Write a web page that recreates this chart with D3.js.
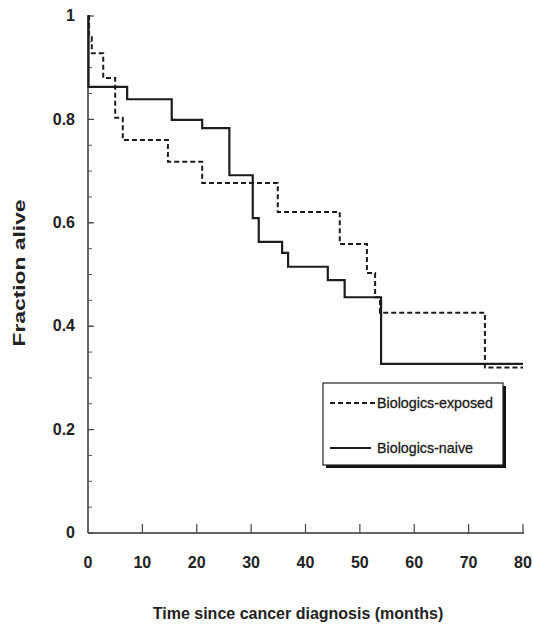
<!DOCTYPE html>
<html>
<head>
<meta charset="utf-8">
<script src="https://cdn.jsdelivr.net/npm/d3@7"></script>
<style>
  body { margin: 0; background: #fff; }
  svg { display: block; font-family: "Liberation Sans", Arial, sans-serif; }
</style>
</head>
<body>
<script>
// survival steps (time in months, fraction alive after the drop)
const exposedTimes = [0, 0.2, 0.7, 2.8, 5.0, 6.4, 14.7, 21.0, 34.9, 46.3, 51.3, 52.8, 53.7, 73.0, 80];
const exposedSurv  = [1, 0.963, 0.928, 0.880, 0.803, 0.760, 0.718, 0.677, 0.621, 0.559, 0.503, 0.456, 0.426, 0.320, 0.320];

const naiveTimes = [0, 0.1, 7.2, 15.4, 21.0, 26.0, 30.3, 31.4, 35.7, 36.8, 44.1, 47.2, 53.9, 80];
const naiveSurv  = [1, 0.863, 0.839, 0.799, 0.783, 0.692, 0.609, 0.563, 0.542, 0.515, 0.489, 0.456, 0.327, 0.327];

const xTicks = [0, 10, 20, 30, 40, 50, 60, 70, 80];
const yTicks = [0, 0.2, 0.4, 0.6, 0.8, 1];
const yMinorTicks = d3.range(0.05, 1, 0.05);
const legendLabels = ["Biologics-exposed", "Biologics-naive"];

const w = 533, h = 627;
const svg = d3.select("body").append("svg")
  .attr("width", w)
  .attr("height", h);

const x = d3.scaleLinear().domain([0, 80]).range([88, 523]);
const y = d3.scaleLinear().domain([0, 1]).range([533, 16]);

const ink = "#1c1c1c";

// axes
svg.append("line")
  .attr("x1", x(0)).attr("x2", x(0))
  .attr("y1", y(1) - 1).attr("y2", y(0))
  .attr("stroke", "#333").attr("stroke-width", 1.5);
svg.append("line")
  .attr("x1", x(0)).attr("x2", x(80) + 1)
  .attr("y1", y(0)).attr("y2", y(0))
  .attr("stroke", "#333").attr("stroke-width", 1.5);

// y ticks, inside
svg.append("g").selectAll("line.minor")
  .data(yMinorTicks)
  .enter().append("line")
  .attr("x1", x(0)).attr("x2", x(0) + 4)
  .attr("y1", d => y(d)).attr("y2", d => y(d))
  .attr("stroke", "#555").attr("stroke-width", 1);
svg.append("g").selectAll("line.major")
  .data(yTicks)
  .enter().append("line")
  .attr("x1", x(0)).attr("x2", x(0) + 6)
  .attr("y1", d => y(d)).attr("y2", d => y(d))
  .attr("stroke", "#444").attr("stroke-width", 1.2);
svg.append("g").selectAll("text")
  .data(yTicks)
  .enter().append("text")
  .attr("x", 75)
  .attr("y", d => y(d) + 1)
  .attr("text-anchor", "end")
  .attr("dominant-baseline", "middle")
  .style("font-size", "16px")
  .style("font-weight", "bold")
  .attr("fill", "#222")
  .text(d => d3.format("~g")(d));

// x ticks, pointing up
svg.append("g").selectAll("line")
  .data(xTicks.slice(1))
  .enter().append("line")
  .attr("x1", d => x(d)).attr("x2", d => x(d))
  .attr("y1", y(0)).attr("y2", y(0) - 9)
  .attr("stroke", "#444").attr("stroke-width", 1.2);
svg.append("g").selectAll("text")
  .data(xTicks)
  .enter().append("text")
  .attr("x", d => x(d))
  .attr("y", 564)
  .attr("text-anchor", "middle")
  .attr("dominant-baseline", "middle")
  .style("font-size", "16px")
  .style("font-weight", "bold")
  .attr("fill", "#222")
  .text(d => d);

// titles
svg.append("text")
  .attr("x", 298)
  .attr("y", 619)
  .attr("text-anchor", "middle")
  .style("font-size", "16px")
  .style("font-weight", "bold")
  .attr("fill", "#222")
  .text("Time since cancer diagnosis (months)");

svg.append("text")
  .attr("transform", "translate(25, 273) rotate(-90)")
  .attr("text-anchor", "middle")
  .attr("textLength", 147)
  .attr("lengthAdjust", "spacingAndGlyphs")
  .style("font-size", "16px")
  .style("font-weight", "bold")
  .attr("fill", "#222")
  .text("Fraction alive");

// curves
const step = d3.line()
  .x(d => x(d[0]))
  .y(d => y(d[1]))
  .curve(d3.curveStepAfter);

svg.append("path")
  .datum(d3.zip(exposedTimes, exposedSurv))
  .attr("d", step)
  .attr("fill", "none")
  .attr("stroke", ink)
  .attr("stroke-width", 2)
  .attr("stroke-dasharray", "5,3");

svg.append("path")
  .datum(d3.zip(naiveTimes, naiveSurv))
  .attr("d", step)
  .attr("fill", "none")
  .attr("stroke", ink)
  .attr("stroke-width", 2.2);

// legend
const lg = svg.append("g");
lg.append("rect")
  .attr("x", 326).attr("y", 386)
  .attr("width", 180).attr("height", 82)
  .attr("fill", "#111");
lg.append("rect")
  .attr("x", 323).attr("y", 383)
  .attr("width", 180).attr("height", 82)
  .attr("fill", "#fff")
  .attr("stroke", "#222")
  .attr("stroke-width", 1.2);

const legendY = [403, 448];
const legendW = [116, 96];
lg.selectAll("line")
  .data(legendLabels)
  .enter().append("line")
  .attr("x1", 330)
  .attr("x2", (d, i) => i === 0 ? 376 : 371)
  .attr("y1", (d, i) => legendY[i])
  .attr("y2", (d, i) => legendY[i])
  .attr("stroke", ink)
  .attr("stroke-width", 2)
  .attr("stroke-dasharray", (d, i) => i === 0 ? "5,3" : null);
lg.selectAll("text")
  .data(legendLabels)
  .enter().append("text")
  .attr("x", 377)
  .attr("y", (d, i) => legendY[i] + 1)
  .attr("dominant-baseline", "middle")
  .attr("textLength", (d, i) => legendW[i])
  .attr("lengthAdjust", "spacingAndGlyphs")
  .style("font-size", "15px")
  .attr("fill", "#1a1a1a")
  .attr("stroke", "#1a1a1a")
  .attr("stroke-width", 0.3)
  .text(d => d);
</script>
</body>
</html>
